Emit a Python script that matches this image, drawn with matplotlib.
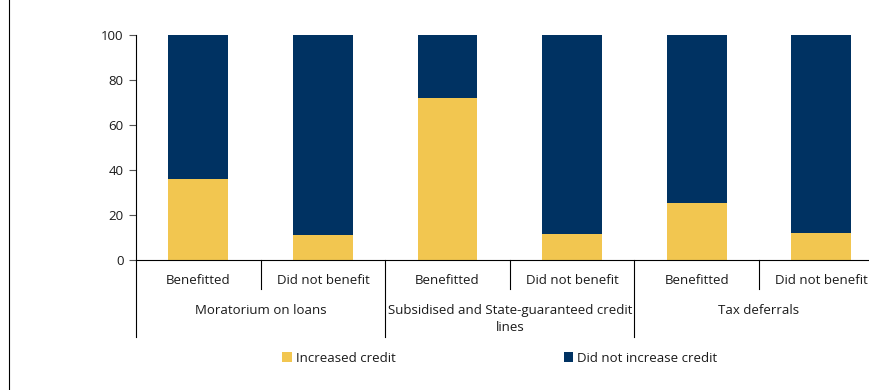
import numpy as np
from matplotlib import pyplot as plt
from matplotlib.lines import Line2D

plt.rcParams['font.family'] = ['Open Sans', 'DejaVu Sans']

groups = ['Moratorium on loans', 'Subsidised and State-guaranteed credit\nlines', 'Tax deferrals']
subgroups = ['Benefitted', 'Did not benefit']
increased = [36, 11, 72, 11.5, 25.3, 12]
not_increased = [100 - v for v in increased]

yellow = '#F2C650'
navy = '#003262'
text_col = '#1a1a1a'

W, H = 869, 390
fig = plt.figure(figsize=(W / 100, H / 100), dpi=100)

# axes run a bit past the right edge, as in the original layout
slot = 124.6
ax = fig.add_axes([136 / W, 130 / H, 6 * slot / W, 225 / H])

x = np.arange(len(increased))
ax.bar(x, increased, width=0.48, color=yellow, label='Increased credit')
ax.bar(x, not_increased, width=0.48, bottom=increased, color=navy, label='Did not increase credit')

ax.set_xlim(-0.5, len(increased) - 0.5)
ax.set_ylim(0, 100)
ax.set_yticks(range(0, 101, 20))
ax.set_xticks([])
for s in ['top', 'right']:
    ax.spines[s].set_visible(False)
ax.spines['left'].set_color('black')
ax.spines['bottom'].set_color('black')
ax.tick_params(axis='y', length=5, color='#555555', labelsize=9.5, labelcolor=text_col, pad=4)

# two-level category axis drawn below the plot
trans = ax.get_xaxis_transform()
for i in range(len(increased)):
    ax.text(i, -0.09, subgroups[i % 2], transform=trans, ha='center', va='center',
            fontsize=9.5, color=text_col, clip_on=False)
for i in range(len(increased) + 1):
    xb = i - 0.5
    depth = -0.34 if i % 2 == 0 else -0.13
    ax.add_line(Line2D([xb, xb], [0, depth], transform=trans, color='black', lw=0.8, clip_on=False))
for g, name in enumerate(groups):
    xc = 2 * g + 0.5
    ax.text(xc, -0.195, name, transform=trans, ha='center', va='top', fontsize=9.5,
            color=text_col, linespacing=1.45, clip_on=False)

fig.legend(loc='center', bbox_to_anchor=(500 / W, 1 - 358 / H), ncol=2, frameon=False,
           fontsize=9.5, handlelength=0.7, handleheight=0.7, handletextpad=0.3,
           columnspacing=12.8, labelcolor=text_col)

# thin frame line on the left of the figure
fig.add_artist(Line2D([9 / W, 9 / W], [0, 1], transform=fig.transFigure, color='black', lw=0.8))

fig.savefig('out.png', dpi=100)
